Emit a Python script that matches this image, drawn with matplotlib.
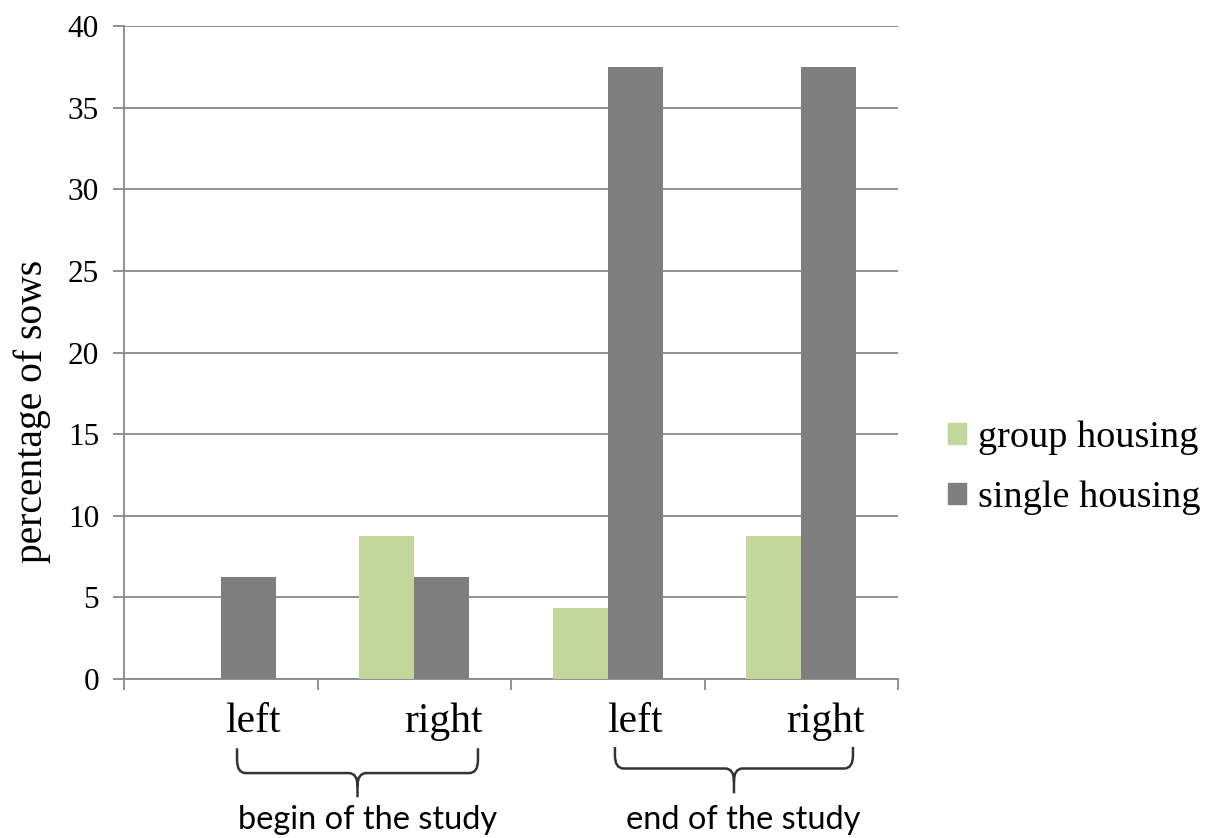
import numpy as np
import matplotlib.pyplot as plt
from matplotlib.patches import Patch, PathPatch
from matplotlib.path import Path

# data
categories = ['left', 'right', 'left', 'right']
periods = ['begin of the study', 'end of the study']
group_housing = [0, 8.75, 4.35, 8.75]
single_housing = [6.25, 6.25, 37.5, 37.5]

GREEN = '#C3D69B'
GREY = '#7F7F7F'
LINE = '#888888'
SERIF = 'Liberation Serif'

fig = plt.figure(figsize=(12.09, 8.38), dpi=100)
ax = fig.add_axes([0.1026, 0.1897, 0.6402, 0.7793])

x = np.arange(len(categories))
w = 0.285
ax.bar(x - w / 2, group_housing, w, color=GREEN, zorder=3)
ax.bar(x + w / 2, single_housing, w, color=GREY, zorder=3)

ax.set_xlim(-0.5, len(categories) - 0.5)
ax.set_ylim(0, 40)
ax.set_yticks(np.arange(0, 41, 5))
ax.yaxis.grid(True, color=LINE, linewidth=1.3, zorder=0)

for s in ['top', 'right']:
    ax.spines[s].set_visible(False)
for s in ['left', 'bottom']:
    ax.spines[s].set_color(LINE)
    ax.spines[s].set_linewidth(1.3)

# category boundary ticks, no labels on them
ax.set_xticks(np.arange(-0.5, len(categories)))
ax.set_xticklabels([])
ax.tick_params(axis='x', length=8, width=1.3, color=LINE)
ax.tick_params(axis='y', length=8, width=1.3, color=LINE, pad=10)
for lbl in ax.get_yticklabels():
    lbl.set_fontfamily(SERIF)
    lbl.set_fontsize(22.5)

ax.set_ylabel('percentage of sows', fontfamily=SERIF, fontsize=28.5)
ax.yaxis.set_label_coords(-0.094, 0.41)

# side labels, shifted right like in the original sheet
trans = ax.get_xaxis_transform()
offsets = [0.167, 0.149, 0.141, 0.123]
for xi, lab, off in zip(x, categories, offsets):
    ax.text(xi + off, -0.066, lab, transform=trans, ha='center', va='center',
            fontfamily=SERIF, fontsize=30, clip_on=False)


def brace(x0, x1, ytop, ymid, ytip, dx=0.045, r=0.02):
    xc = (x0 + x1) / 2
    verts = [(x0, ytop), (x0, ymid + r), (x0, ymid), (x0 + dx, ymid),
             (xc - dx, ymid), (xc, ymid), (xc, ymid - r), (xc, ytip),
             (xc, ymid - r), (xc, ymid), (xc + dx, ymid),
             (x1 - dx, ymid), (x1, ymid), (x1, ymid + r), (x1, ytop)]
    codes = [Path.MOVETO, Path.LINETO, Path.CURVE3, Path.CURVE3,
             Path.LINETO, Path.CURVE3, Path.CURVE3, Path.LINETO,
             Path.MOVETO, Path.CURVE3, Path.CURVE3,
             Path.LINETO, Path.CURVE3, Path.CURVE3, Path.LINETO]
    ax.add_patch(PathPatch(Path(verts, codes), transform=trans, fill=False,
                           edgecolor='#333333', lw=1.8, clip_on=False))


brace(0.084, 1.329, -0.106, -0.144, -0.181)
brace(2.037, 3.267, -0.104, -0.137, -0.175)

ax.text(0.756, -0.216, periods[0], transform=trans, ha='center', va='center',
        fontfamily='Lato', fontsize=23.4, clip_on=False)
ax.text(2.699, -0.216, periods[1], transform=trans, ha='center', va='center',
        fontfamily='Lato', fontsize=23.4, clip_on=False)

handles = [Patch(color=GREEN, label='group housing'),
           Patch(color=GREY, label='single housing')]
fig.legend(handles=handles, loc='center left', bbox_to_anchor=(0.762, 0.442),
           frameon=False, prop={'family': SERIF, 'size': 27.5},
           handlelength=0.47, handleheight=0.47, handletextpad=0.32, labelspacing=0.68,
           borderpad=0.2)

fig.savefig('out.png', dpi=100)
